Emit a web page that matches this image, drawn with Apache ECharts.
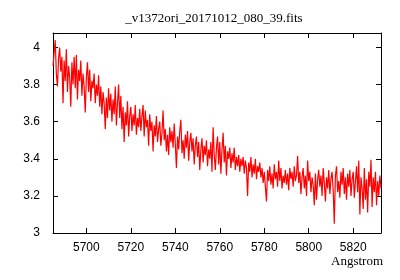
<!DOCTYPE html>
<html>
<head>
<meta charset="utf-8">
<script src="https://cdn.jsdelivr.net/npm/echarts@6/dist/echarts.min.js"></script>
<style>html,body{margin:0;padding:0;background:#fff}#c{width:400px;height:280px}</style>
</head>
<body>
<div id="c"></div>
<script>
const titleText = '_v1372ori_20171012_080_39.fits';
const xAxisLabel = 'Angstrom';
// wavelength grid (FITS style: start value + step)
const lambdaStart = 5685;
const lambdaStep = 0.5;
const xRange = [5685, 5832.5];
const yRange = [3, 4.078];
const flux = [
3.90,3.97,4.04,3.86,3.79,3.94,4.00,3.87,3.95,3.70,
3.93,3.82,3.99,3.76,3.90,3.84,3.68,3.92,3.80,3.95,
3.78,3.96,3.72,3.88,3.82,3.93,3.74,3.86,3.79,3.65,
3.84,3.92,3.76,3.88,3.71,3.82,3.78,3.86,3.70,3.80,
3.74,3.85,3.68,3.79,3.64,3.76,3.70,3.56,3.73,3.62,
3.78,3.66,3.75,3.60,3.72,3.64,3.79,3.58,3.70,3.80,
3.62,3.74,3.56,3.68,3.49,3.65,3.58,3.71,3.52,3.63,
3.68,3.55,3.64,3.58,3.69,3.53,3.62,3.57,3.67,3.55,
3.63,3.69,3.52,3.66,3.57,3.61,3.47,3.64,3.55,3.60,
3.44,3.58,3.52,3.63,3.49,3.56,3.60,3.47,3.54,3.66,
3.50,3.56,3.44,3.53,3.42,3.57,3.49,3.55,3.46,3.59,
3.48,3.35,3.52,3.45,3.55,3.61,3.43,3.50,3.40,3.53,
3.46,3.55,3.39,3.49,3.54,3.44,3.51,3.37,3.47,3.52,
3.41,3.49,3.34,3.45,3.51,3.38,3.47,3.42,3.50,3.36,
3.45,3.40,3.49,3.33,3.57,3.42,3.34,3.46,3.52,3.37,
3.49,3.32,3.45,3.54,3.38,3.47,3.31,3.44,3.40,3.46,
3.35,3.43,3.38,3.46,3.34,3.41,3.36,3.42,3.33,3.40,
3.36,3.41,3.32,3.39,3.35,3.20,3.38,3.33,3.41,3.30,
3.37,3.32,3.40,3.29,3.36,3.33,3.38,3.30,3.35,3.27,
3.33,3.25,3.17,3.34,3.28,3.36,3.26,3.32,3.24,3.37,
3.29,3.33,3.25,3.39,3.28,3.35,3.24,3.31,3.27,3.34,
3.26,3.32,3.23,3.35,3.29,3.33,3.25,3.36,3.28,3.31,
3.415,3.27,3.33,3.21,3.30,3.35,3.24,3.31,3.20,3.39,
3.28,3.33,3.22,3.30,3.26,3.15,3.32,3.18,3.29,3.34,
3.25,3.31,3.20,3.35,3.27,3.17,3.30,3.24,3.34,3.21,
3.29,3.33,3.23,3.05,3.31,3.36,3.22,3.28,3.19,3.33,
3.26,3.35,3.21,3.30,3.18,3.32,3.25,3.34,3.20,3.29,
3.33,3.19,3.28,3.36,3.22,3.39,3.10,3.30,3.24,3.13,
3.35,3.18,3.29,3.11,3.33,3.25,3.395,3.14,3.30,3.22,
3.33,3.15,3.28,3.20,3.31,3.24
];

const data = flux.map((v, i) => [lambdaStart + i * lambdaStep, v]);
const chart = echarts.init(document.getElementById('c'), null, {renderer: 'canvas'});
const labelFont = {color: '#000', fontSize: 12, fontFamily: 'Liberation Sans'};
const lineSt = {lineStyle: {color: '#000', width: 1}};
const tickSt = {show: true, inside: true, length: 5, lineStyle: {color: '#000', width: 1}};
const plain = v => String(Math.round(v * 1000) / 1000);
chart.setOption({
  animation: false,
  backgroundColor: '#fff',
  grid: {left: 53, right: 19, top: 33, bottom: 47},
  xAxis: [{
    type: 'value', min: xRange[0], max: xRange[1], minInterval: 20, maxInterval: 20,
    axisLine: Object.assign({show: true}, lineSt), axisTick: tickSt,
    axisLabel: Object.assign({margin: 9, showMinLabel: false, showMaxLabel: false, formatter: plain}, labelFont),
    splitLine: {show: false}
  }, {
    type: 'value', position: 'top', min: xRange[0], max: xRange[1], minInterval: 20, maxInterval: 20,
    axisLine: Object.assign({show: true}, lineSt), axisTick: tickSt,
    axisLabel: {show: false}, splitLine: {show: false}
  }],
  yAxis: [{
    type: 'value', min: yRange[0], max: yRange[1], interval: 0.2,
    axisLine: Object.assign({show: true}, lineSt), axisTick: tickSt,
    axisLabel: Object.assign({margin: 13, showMaxLabel: false, formatter: plain}, labelFont),
    splitLine: {show: false}
  }, {
    type: 'value', position: 'right', min: yRange[0], max: yRange[1], interval: 0.2,
    axisLine: Object.assign({show: true}, lineSt), axisTick: tickSt,
    axisLabel: {show: false}, splitLine: {show: false}
  }],
  graphic: [
    {type: 'text', x: 214, y: 19, style: {text: titleText, fill: '#000', font: '13px "Liberation Serif"', textAlign: 'center', textVerticalAlign: 'middle'}},
    {type: 'text', x: 383, y: 262, style: {text: xAxisLabel, fill: '#000', font: '13px "Liberation Serif"', textAlign: 'right', textVerticalAlign: 'middle'}}
  ],
  series: [{
    type: 'line', data: data, xAxisIndex: 0, yAxisIndex: 0,
    showSymbol: false, symbol: 'none', sampling: null,
    lineStyle: {color: '#ff0000', width: 1.2}
  }]
});
</script>
</body>
</html>
